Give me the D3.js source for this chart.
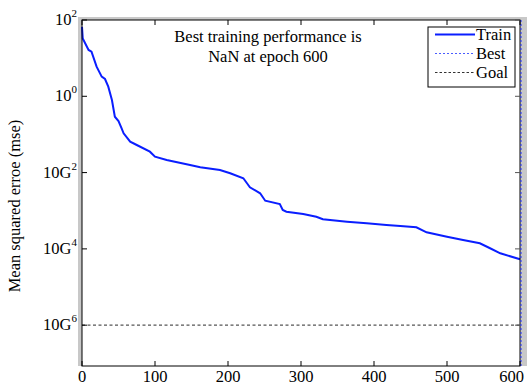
<!DOCTYPE html>
<html><head><meta charset="utf-8">
<script src="https://cdn.jsdelivr.net/npm/d3@7"></script>
<style>body{margin:0;background:#fff;}text{font-family:"Liberation Serif","DejaVu Serif",serif;}</style>
</head><body>
<svg id="c" width="527" height="385"></svg>
<script>
const epochs = [0,1,9,13,20,27,31.5,36,41,45,50,54,57,66,75,93,100,116,148,162,189,203,221,226,230,244,251,271,275,280,303,321,330,363,390,417,436,458,472,500,522,545,559,573,600];
const mse = [66,33,16.4,14.8,5.97,3.27,2.84,1.79,0.80,0.292,0.225,0.148,0.107,0.0646,0.0529,0.0353,0.0261,0.0214,0.0158,0.0138,0.0117,0.0096,0.0071,0.00525,0.00412,0.00287,0.00183,0.00150,0.00105,0.000944,0.000822,0.000698,0.000597,0.000516,0.000469,0.000423,0.000398,0.000368,0.000272,0.000209,0.000171,0.000140,0.000104,0.0000767,0.0000533];
const xTicks = [0,100,200,300,400,500,600];
const yTicks = [1e2,1e0,1e-2,1e-4,1e-6];
const yTickBase = ["10","10","10G","10G","10G"];
const yTickExp = ["2","0","2","4","6"];
const goal = 1e-6;
const bestEpoch = 600;
const titleLines = ["Best training performance is","NaN at epoch 600"];
const legendLabels = ["Train","Best","Goal"];
const yLabel = "Mean squared erroe (mse)";

const FONT = "'Liberation Serif','DejaVu Serif',serif";
const svg = d3.select("#c");
const L = 82, R = 520, T = 20, B = 366;
const x = d3.scaleLinear().domain([0,600]).range([L,R]);
const y = d3.scaleLog().domain([Math.pow(10,-7.07),100]).range([B,T]);
const fs = 16.5;

// gray frame
svg.append("rect").attr("x",78).attr("y",17).attr("width",527-78).attr("height",B-17).attr("fill","#c8c8c8");
svg.append("rect").attr("x",L).attr("y",T).attr("width",R-L).attr("height",B-T).attr("fill","#fff");

// goal line
svg.append("line").attr("x1",L).attr("x2",R).attr("y1",y(goal)).attr("y2",y(goal))
  .attr("stroke","#555").attr("stroke-width",1.2).attr("stroke-dasharray","3,2.5");

// train line
const line = d3.line().x((d,i)=>x(epochs[i])).y(d=>y(d));
svg.append("path").datum(mse).attr("d",line).attr("fill","none")
  .attr("stroke","#0a1eff").attr("stroke-width",2);

// axes box
svg.append("rect").attr("x",L).attr("y",T).attr("width",R-L).attr("height",B-T)
  .attr("fill","none").attr("stroke","#000").attr("stroke-width",1);

// best vertical dotted
svg.append("line").attr("x1",x(bestEpoch)+1).attr("x2",x(bestEpoch)+1).attr("y1",T).attr("y2",B)
  .attr("stroke","#2030ff").attr("stroke-width",1).attr("stroke-dasharray","2,2");

// ticks
const tl = 5;
const gx = svg.append("g");
xTicks.forEach((t,i)=>{
  gx.append("line").attr("x1",x(t)).attr("x2",x(t)).attr("y1",B).attr("y2",B-tl).attr("stroke","#000");
  gx.append("line").attr("x1",x(t)).attr("x2",x(t)).attr("y1",T).attr("y2",T+tl).attr("stroke","#000");
  const last = i === xTicks.length-1;
  gx.append("text").attr("x",last ? 524 : x(t)).attr("y",382)
    .attr("text-anchor",last ? "end" : "middle").attr("font-family",FONT).attr("font-size",fs).text(t);
});
const gy = svg.append("g");
yTicks.forEach((t,i)=>{
  gy.append("line").attr("x1",L).attr("x2",L+tl).attr("y1",y(t)).attr("y2",y(t)).attr("stroke","#000");
  gy.append("line").attr("x1",R).attr("x2",R-tl).attr("y1",y(t)).attr("y2",y(t)).attr("stroke","#555");
  const tx = gy.append("text").attr("x",77).attr("y",y(t)+5).attr("text-anchor","end")
    .attr("font-family",FONT).attr("font-size",fs);
  tx.append("tspan").text(yTickBase[i]);
  tx.append("tspan").attr("dy",-8).attr("font-size",11).text(yTickExp[i]);
});

// y label
svg.append("text").attr("transform","translate(20,206) rotate(-90)").attr("text-anchor","middle")
  .attr("font-family",FONT).attr("font-size",fs).text(yLabel);

// title
titleLines.forEach((s,i)=>{
  svg.append("text").attr("x",268).attr("y",42+i*20).attr("text-anchor","middle")
    .attr("font-family",FONT).attr("font-size",fs).text(s);
});

// legend
const lg = svg.append("g");
lg.append("rect").attr("x",428).attr("y",27).attr("width",87).attr("height",60).attr("fill","#fff").attr("stroke","#000");
const styles = [{c:"#0a1eff",w:2,d:null},{c:"#4a5cff",w:1,d:"2,2"},{c:"#333",w:1,d:"2.5,2"}];
legendLabels.forEach((s,i)=>{
  const yy = 34.5+i*19;
  lg.append("line").attr("x1",435).attr("x2",475).attr("y1",yy).attr("y2",yy)
    .attr("stroke",styles[i].c).attr("stroke-width",styles[i].w).attr("stroke-dasharray",styles[i].d);
  lg.append("text").attr("x",476).attr("y",yy+5.5).attr("font-family",FONT).attr("font-size",fs).text(s);
});
</script>
</body></html>
